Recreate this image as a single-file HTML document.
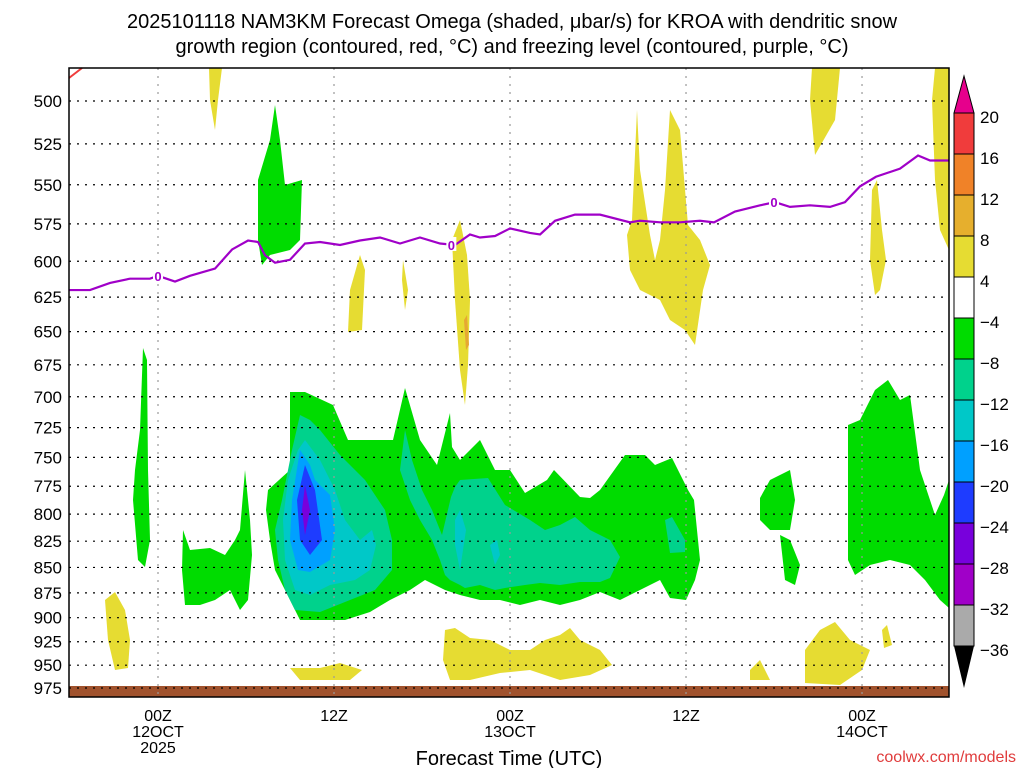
<!DOCTYPE html>
<html><head><meta charset="utf-8"><style>
html,body{margin:0;padding:0;background:#fff;width:1024px;height:768px;overflow:hidden}
svg{display:block;font-family:"Liberation Sans",sans-serif}
</style></head><body>
<svg id="chart" width="1024" height="768" viewBox="0 0 1024 768">
<g font-size="20" text-anchor="middle" fill="#000">
<text x="512" y="28">2025101118 NAM3KM Forecast Omega (shaded, μbar/s) for KROA with dendritic snow</text>
<text x="512" y="53">growth region (contoured, red, °C) and freezing level (contoured, purple, °C)</text>
</g>
<g id="fills">
<g fill="#e6dc32">
<polygon points="209,68 222,68 218,100 215,130 210,100"/>
<polygon points="350,290 360,255 365,270 362,330 348,332"/>
<polygon points="403,260 408,290 405,310 402,280"/>
<polygon points="452,240 460,220 467,255 470,300 468,365 465,405 460,370 455,300"/>
<polygon points="627,235 632,220 637,110 640,170 650,235 655,260 660,240 665,190 670,110 680,130 688,225 700,240 710,265 703,290 695,345 685,330 670,320 660,300 640,290 630,270"/>
<polygon points="812,68 840,68 835,120 815,155 810,100"/>
<polygon points="872,190 877,180 882,230 886,260 880,290 875,295 870,260"/>
<polygon points="935,68 949,68 949,250 940,230 935,180 932,100"/>
<polygon points="105,600 115,592 125,610 130,640 128,668 115,670 108,640"/>
<polygon points="290,668 320,668 340,663 362,670 350,680 300,680"/>
<polygon points="445,630 455,628 470,638 490,640 510,650 530,650 545,640 560,635 570,628 580,640 600,650 612,665 590,675 560,680 530,670 500,673 470,680 450,680 443,660"/>
<polygon points="750,670 760,660 770,680 750,680"/>
<polygon points="805,650 820,630 835,622 850,640 870,650 862,670 840,685 805,683"/>
<polygon points="882,630 887,625 892,645 884,648"/>
</g>
<polygon fill="#e6a832" points="464,320 467,315 469,345 466,350"/>
<g fill="#00dc00">
<polygon points="268,490 290,470 290,392 305,392 333,405 348,440 378,440 393,440 405,388 420,440 437,465 450,413 452,447 460,460 480,440 495,470 510,470 525,493 547,480 554,470 580,497 590,498 600,490 625,455 645,455 655,465 672,458 688,490 694,500 700,560 695,580 686,600 670,598 660,580 640,590 620,600 600,592 580,600 560,605 540,600 520,605 500,600 480,600 460,595 445,590 425,580 410,590 390,600 370,612 345,620 330,620 300,620 290,600 275,570 270,540 266,510"/>
<polygon points="143,348 147,360 148,470 150,540 145,567 138,560 133,500 135,470 140,430"/>
<polygon points="183,530 190,550 210,548 225,555 235,540 240,530 245,470 250,520 252,555 248,600 240,610 230,590 215,600 200,605 185,605 182,570"/>
<polygon points="258,180 270,140 275,105 280,140 285,185 302,180 300,240 290,250 270,255 262,265 258,240"/>
<polygon points="848,425 860,420 875,390 888,380 900,400 910,395 920,470 935,515 944,495 949,480 949,608 940,600 925,580 910,565 890,560 870,565 855,575 848,560"/>
<polygon points="760,498 770,480 790,470 795,500 790,530 770,530 760,520"/>
<polygon points="780,535 790,540 800,565 795,585 785,580"/>
</g>
<g fill="#00d28c">
<polygon points="292,450 300,415 310,420 320,430 340,455 365,480 385,510 392,540 392,570 375,590 350,600 320,612 295,610 285,590 278,560 275,530 282,500"/>
<polygon points="405,430 412,460 422,490 432,510 442,535 451,497 455,487 460,480 488,478 505,505 530,520 545,530 560,525 575,517 590,530 610,540 620,557 610,578 600,582 580,582 560,585 540,583 525,585 505,588 495,590 480,585 465,588 460,585 450,580 445,575 440,560 432,540 420,520 410,500 400,470"/>
<polygon points="665,520 672,517 685,540 685,552 670,553"/>
</g>
<g fill="#00c8c8">
<polygon points="298,450 305,440 320,460 335,490 345,520 360,540 372,530 376,545 370,570 355,580 330,585 310,595 295,590 285,560 283,520 288,480"/>
<polygon points="455,520 460,510 466,530 460,570 455,545"/>
<polygon points="490,545 497,540 500,555 495,565"/>
</g>
<polygon fill="#00a0ff" points="300,450 310,465 315,480 330,495 335,530 330,560 310,572 298,570 290,540 292,500"/>
<polygon fill="#1e3cff" points="305,465 315,490 322,540 310,555 300,540 297,500"/>
<polygon fill="#7800dc" points="305,485 310,510 305,535 302,510"/>
</g>
<rect x="69" y="686" width="880" height="11" fill="#a0522d"/>
<g id="grid"></g>
<line x1="69" y1="78" x2="82" y2="68" stroke="#f03c3c" stroke-width="2"/>
<g id="frz"></g>
<rect x="69" y="68" width="880" height="629" fill="none" stroke="#000" stroke-width="1.5"/>
<g id="yaxis" font-size="17" text-anchor="end"></g>
<g id="xaxis" font-size="16" text-anchor="middle"></g>
<text x="509" y="765" font-size="20" text-anchor="middle">Forecast Time (UTC)</text>
<text x="1016" y="762" font-size="16" text-anchor="end" fill="#e03c3c">coolwx.com/models</text>
<g id="cbar" font-size="17"></g>
</svg>
<script>
const NS="http://www.w3.org/2000/svg";
const pLevels=[500,525,550,575,600,625,650,675,700,725,750,775,800,825,850,875,900,925,950,975];
const timeTicks=[0,12,24,36,48];
const timeLabels=[["00Z","12OCT","2025"],["12Z"],["00Z","13OCT"],["12Z"],["00Z","14OCT"]];
const frzHours=[-6.07,-4.64,-3.27,-1.91,-0.55,0,1.16,2.18,3.89,5.05,6.14,6.82,7.3,7.98,9,10.02,11.05,12.41,13.77,15.14,16.5,17.86,19.23,20.25,21.27,21.95,22.98,24,25.36,26.05,27.07,28.43,30.14,32.18,32.86,34.23,35.59,36.95,37.91,39.34,41.05,42.07,43.09,44.45,45.82,46.84,47.86,48.95,50.59,51.82,52.64,53.93];
const frzPres=[620,620,615,612,612,610,614,610,605,592,586,587,596,601,599,588,587,589,586,584,588,584,588,589,582,584,583,578,581,582,573,569,569,574,573,574,574,573,574,567,563,561,564,563,564,561,551,545,540,532,535,535];
const cbLevels=[20,16,12,8,4,-4,-8,-12,-16,-20,-24,-28,-32,-36];
const cbColors=["#f03c3c","#f08228","#e6af2d","#e6dc32","#ffffff","#00dc00","#00d28c","#00c8c8","#00a0ff","#1e3cff","#7800dc","#a000c8","#aaaaaa"];
const xS=h=>158+h*14.667;
const yS=p=>101+879*Math.log(p/500);
function mk(tag,attrs,parent){const e=document.createElementNS(NS,tag);for(const k in attrs)e.setAttribute(k,attrs[k]);parent.appendChild(e);return e;}
const grid=document.getElementById('grid'),ya=document.getElementById('yaxis'),xa=document.getElementById('xaxis');
pLevels.forEach(p=>{
 const l=mk('line',{x1:69,x2:949,y1:yS(p),y2:yS(p),stroke:'#000','stroke-dasharray':'2,6','stroke-width':1.2},grid);
 
 
 const t=mk('text',{x:62,y:yS(p)+6},ya);t.textContent=p;
 
 
});
timeTicks.forEach((h,i)=>{
 const l=mk('line',{x1:xS(h),x2:xS(h),y1:68,y2:697,stroke:'#999','stroke-dasharray':'2,6','stroke-width':1.2},grid);
 
 
 timeLabels[i].forEach((s,j)=>{const t=mk('text',{x:xS(h),y:721+j*16},xa);t.textContent=s;
 
 });
});
const frz=document.getElementById('frz');
const pl=mk('polyline',{points:frzHours.map((h,i)=>xS(h)+','+yS(frzPres[i])).join(' '),fill:'none',stroke:'#a000c8','stroke-width':2.2},frz);


[0,20,42].forEach(h=>{
 let i=frzHours.findIndex(v=>v>=h);const x=xS(h),y=yS(frzPres[i]);
 mk('rect',{x:x-5,y:y-8,width:10,height:14,fill:'#fff'},frz);
 const t=mk('text',{x:x,y:y+5,'font-size':13,'font-weight':'bold','text-anchor':'middle',fill:'#a000c8'},frz);t.textContent='0';
 
 
});
const cb=document.getElementById('cbar');
const cbY=v=>{const i=cbLevels.indexOf(v);return 113+i*41;};
mk('polygon',{points:'954,113 964,76 974,113',fill:'#e6008c',stroke:'#000'},cb);
cbColors.forEach((c,i)=>{
 const r=mk('rect',{x:954,y:cbY(cbLevels[i]),width:20,height:cbY(cbLevels[i+1])-cbY(cbLevels[i]),fill:c,stroke:'#000','stroke-width':1},cb);
 
 
});
mk('polygon',{points:'954,'+cbY(-36)+' 964,'+(cbY(-36)+42)+' 974,'+cbY(-36),fill:'#000'},cb);
cbLevels.forEach(v=>{const t=mk('text',{x:980,y:cbY(v)+10},cb);t.textContent=v>0?String(v):'−'+Math.abs(v);
 
 });
</script>
</body></html>
